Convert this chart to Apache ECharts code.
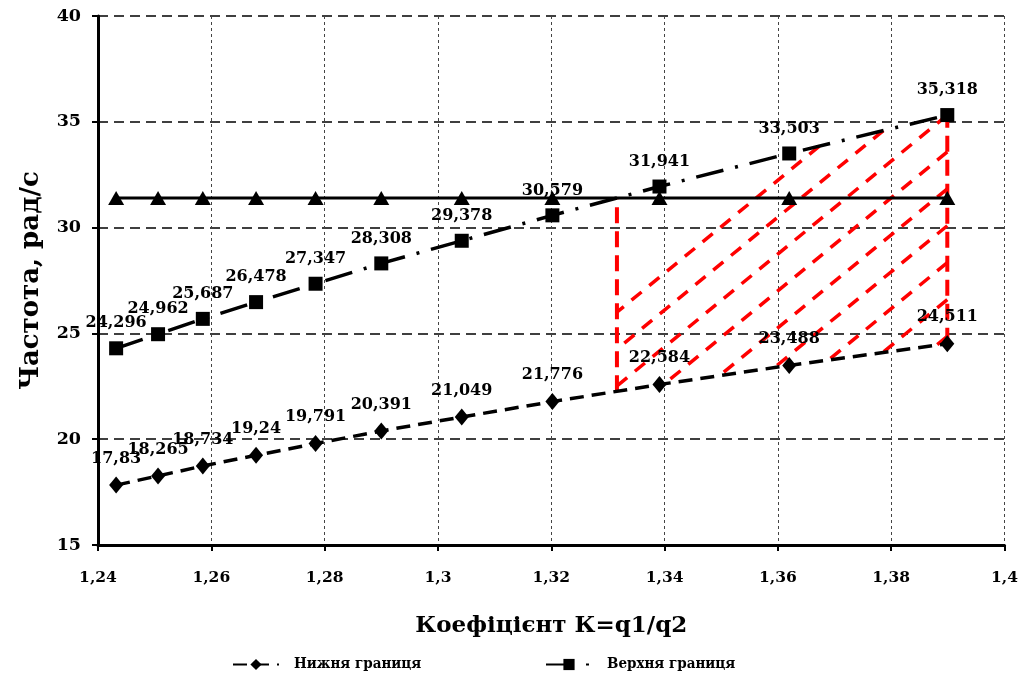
<!DOCTYPE html>
<html>
<head>
<meta charset="utf-8">
<script src="https://cdn.jsdelivr.net/npm/echarts@6/dist/echarts.min.js"></script>
<style>
html,body{margin:0;padding:0;background:#fff;}
#main{width:1021px;height:677px;}
</style>
</head>
<body>
<div id="main"></div>
<script>
// ---- data ----
const kValues = [1.2432, 1.2506, 1.2585, 1.2679, 1.2784, 1.2900, 1.3042, 1.3202, 1.3391, 1.3620, 1.3899];
const lowerBound = [17.83, 18.265, 18.734, 19.24, 19.791, 20.391, 21.049, 21.776, 22.584, 23.488, 24.511];
const upperBound = [24.296, 24.962, 25.687, 26.478, 27.347, 28.308, 29.378, 30.579, 31.941, 33.503, 35.318];
const workFreq = [31.4, 31.4, 31.4, 31.4, 31.4, 31.4, 31.4, 31.4, 31.4, 31.4, 31.4];
const xTicks = {min: 1.24, max: 1.4, step: 0.02};
const yTicks = {min: 15, max: 40, step: 5};
const names = {lower: 'Нижня границя', upper: 'Верхня границя', work: 'Робоча частота'};

const FONT = "'DejaVu Serif', 'Liberation Serif', serif";
const FONT_C = "'DejaVu Serif Condensed', 'DejaVu Serif', serif";
const fmt = v => String(Math.round(v * 1000) / 1000).replace('.', ',');

function pairs(ys) { return kValues.map((x, i) => [x, ys[i]]); }

function interp(ys, x) {
  for (let i = 0; i < kValues.length - 1; i++) {
    if (x >= kValues[i] && x <= kValues[i + 1]) {
      const t = (x - kValues[i]) / (kValues[i + 1] - kValues[i]);
      return ys[i] + t * (ys[i + 1] - ys[i]);
    }
  }
  return ys[ys.length - 1];
}

function hatchRender(params, api) {
  const level = workFreq[0];
  let xc = kValues[0];
  for (let i = 0; i < kValues.length - 1; i++) {
    if (upperBound[i] <= level && upperBound[i + 1] > level) {
      const t = (level - upperBound[i]) / (upperBound[i + 1] - upperBound[i]);
      xc = kValues[i] + t * (kValues[i + 1] - kValues[i]);
      break;
    }
  }
  const n = kValues.length;
  const poly = [];
  poly.push([xc, interp(lowerBound, xc)]);
  poly.push([xc, level]);
  for (let i = 0; i < n; i++) if (kValues[i] > xc) poly.push([kValues[i], upperBound[i]]);
  for (let i = n - 1; i >= 0; i--) if (kValues[i] > xc) poly.push([kValues[i], lowerBound[i]]);
  const P = poly.map(p => api.coord(p));
  const children = [];
  const red = '#ff0000';
  const s = 0.82;
  const tr = api.coord([kValues[n - 1], upperBound[n - 1]]);
  const c0 = tr[1] + s * tr[0];
  const dc = s * 45;
  for (let k = -2; k < 30; k++) {
    const c = c0 + k * dc;
    const pts = [];
    for (let i = 0; i < P.length; i++) {
      const a = P[i], b = P[(i + 1) % P.length];
      const fa = a[1] + s * a[0] - c, fb = b[1] + s * b[0] - c;
      if ((fa < 0 && fb >= 0) || (fa >= 0 && fb < 0)) {
        const t = fa / (fa - fb);
        pts.push([a[0] + t * (b[0] - a[0]), a[1] + t * (b[1] - a[1])]);
      }
    }
    pts.sort((p, q) => q[0] - p[0]);
    for (let j = 0; j + 1 < pts.length; j += 2) {
      children.push({
        type: 'line',
        shape: {x1: pts[j][0], y1: pts[j][1], x2: pts[j + 1][0], y2: pts[j + 1][1]},
        style: {stroke: red, lineWidth: 3.5, lineDash: [13, 10]}
      });
    }
  }
  const l0 = api.coord([xc, interp(lowerBound, xc)]);
  const l1 = api.coord([xc, level]);
  children.push({type: 'line', shape: {x1: l0[0], y1: l0[1], x2: l1[0], y2: l1[1]},
    style: {stroke: red, lineWidth: 4, lineDash: [16, 8]}});
  const r0 = api.coord([kValues[n - 1], lowerBound[n - 1]]);
  children.push({type: 'line', shape: {x1: r0[0], y1: r0[1], x2: tr[0], y2: tr[1]},
    style: {stroke: red, lineWidth: 4, lineDash: [16, 8]}});
  return {type: 'group', children: children};
}

const labelStyle = {
  show: true, position: 'top', distance: 10,
  fontFamily: FONT, fontWeight: 'bold', fontSize: 16, color: '#000',
  formatter: p => fmt(p.value[1])
};
const legendText = {fontFamily: FONT_C, fontWeight: 'bold', fontSize: 15, color: '#000', padding: [0, 0, 0, 10]};

const chart = echarts.init(document.getElementById('main'), null, {renderer: 'canvas'});
chart.setOption({
  animation: false,
  backgroundColor: '#fff',
  grid: {left: 98, right: 16, top: 16, bottom: 132},
  legend: [
    {data: [names.lower], left: 227, top: 652, itemWidth: 46, itemHeight: 14, textStyle: legendText},
    {data: [names.upper], left: 540, top: 652, itemWidth: 46, itemHeight: 14, textStyle: legendText}
  ],
  xAxis: {
    type: 'value', min: xTicks.min, max: xTicks.max, interval: xTicks.step,
    name: 'Коефіцієнт К=q1/q2', nameLocation: 'middle', nameGap: 70,
    nameTextStyle: {fontFamily: FONT, fontWeight: 'bold', fontSize: 23, color: '#000'},
    axisLine: {show: true, lineStyle: {color: '#000', width: 3}},
    axisTick: {show: true, inside: false, length: 6, lineStyle: {color: '#000', width: 2}},
    axisLabel: {margin: 25, fontFamily: FONT, fontWeight: 'bold', fontSize: 15.5, color: '#000',
      formatter: v => fmt(Math.round(v * 100) / 100)},
    splitLine: {show: true, lineStyle: {color: '#444', width: 1, type: [3, 3]}}
  },
  yAxis: {
    type: 'value', min: yTicks.min, max: yTicks.max, interval: yTicks.step,
    name: 'Частота, рад/с', nameLocation: 'middle', nameGap: 54, nameRotate: 90,
    nameTextStyle: {fontFamily: FONT, fontWeight: 'bold', fontSize: 26, color: '#000'},
    axisLine: {show: true, lineStyle: {color: '#000', width: 3}},
    axisTick: {show: true, inside: false, length: 6, lineStyle: {color: '#000', width: 2}},
    axisLabel: {margin: 17, fontFamily: FONT, fontWeight: 'bold', fontSize: 17.5, color: '#000'},
    splitLine: {show: true, lineStyle: {color: '#000', width: 1.6, type: [10, 6]}}
  },
  series: [
    {
      type: 'custom', name: 'hatch', renderItem: hatchRender, silent: true,
      data: [[kValues[0], lowerBound[0]]], z: 1
    },
    {
      type: 'line', name: names.work, data: pairs(workFreq), z: 2,
      symbol: 'triangle', symbolSize: [16, 14],
      lineStyle: {color: '#000', width: 3, type: 'solid'},
      itemStyle: {color: '#000'}
    },
    {
      type: 'line', name: names.lower, data: pairs(lowerBound), z: 3,
      symbol: 'diamond', symbolSize: [14, 17],
      lineStyle: {color: '#000', width: 3.5, type: [14, 8]},
      itemStyle: {color: '#000'},
      label: labelStyle
    },
    {
      type: 'line', name: names.upper, data: pairs(upperBound), z: 3,
      symbol: 'rect', symbolSize: 14,
      lineStyle: {color: '#000', width: 3.5, type: [28, 12, 3, 12]},
      itemStyle: {color: '#000'},
      label: labelStyle
    }
  ]
});
</script>
</body>
</html>
